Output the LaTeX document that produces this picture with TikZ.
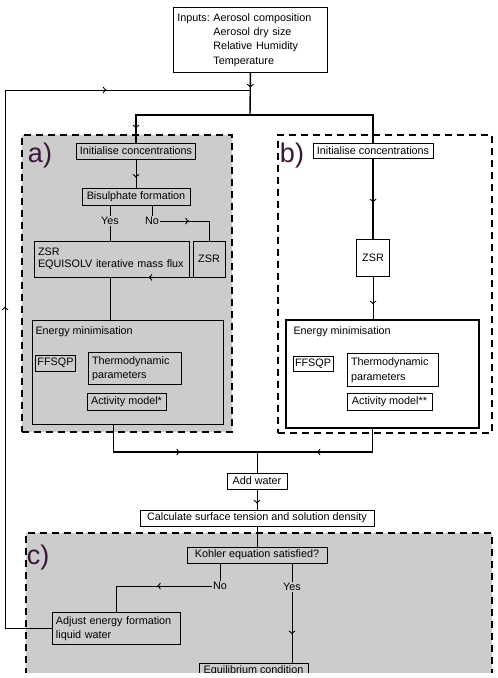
\documentclass[tikz,border=0pt]{standalone}
\usepackage{fontspec}
\setmainfont{Liberation Sans}
\usetikzlibrary{positioning,decorations.markings}
\definecolor{panelgray}{RGB}{204,204,204}
\definecolor{tagpurple}{RGB}{58,22,58}

\begin{document}
\begin{tikzpicture}[x=1pt,y=-1pt,
  every node/.style={font=\fontsize{10.8}{12}\selectfont},
  box/.style={draw,line width=0.9pt,inner sep=2pt},
  twoline/.style={box,align=left,inner sep=4pt,font=\fontsize{10.8}{14.5}\selectfont},
  answer/.style={inner sep=1pt},
  tag/.style={text=tagpurple,inner sep=0pt,font=\fontsize{27}{27}\selectfont},
  panel/.style={draw,line width=1.2pt,dash pattern=on 7pt off 5pt},
  link/.style={line width=0.8pt},
  trunk/.style={line width=1.4pt},
  midarrow/.style={postaction={decorate},decoration={markings,mark=at position #1 with {\arrow[scale=1.4,line width=0.8pt]{>}}}}]
\useasboundingbox (0,0) rectangle (498,678);
\clip (0,0) rectangle (498,672);

\node[panel,fill=panelgray,minimum width=210pt,minimum height=297pt] (panelA) at (127,283.5) {};
\node[panel,minimum width=214pt,minimum height=298pt] (panelB) at (385,284) {};
\node[panel,fill=panelgray,minimum width=466pt,minimum height=157pt] (panelC) at (259,611.5) {};
\node[tag] (tagA) at (40,156) {a)};
\node[tag] (tagB) at (292,156) {b)};
\node[tag] (tagC) at (38,558) {c)};

\node[box,anchor=north west,text width=146pt,minimum height=65pt,inner sep=4pt,align=left,font=\fontsize{10.8}{14.3}\selectfont] (inputs) at (173,7)
  {\makebox[36pt][l]{Inputs:}Aerosol composition\\\hspace*{36pt}Aerosol dry size\\\hspace*{36pt}Relative Humidity\\\hspace*{36pt}Temperature};
\coordinate (loopin) at (250,90);
\coordinate (loopleft) at (5,90);
\coordinate (split) at (250,115);

\node[box,minimum width=119pt,minimum height=16pt] (initA) at (136,151) {Initialise concentrations};
\node[box,minimum width=108pt,minimum height=17pt] (bisA) at (136,196.5) {Bisulphate formation};
\node[answer] (yesA) at (110,221) {Yes};
\node[answer] (noA) at (152,221) {No};
\node[box,align=left,text width=147pt,minimum height=36pt,inner sep=4pt] (zsrA) at (111.5,259) {ZSR\\EQUISOLV iterative mass flux};
\node[box,minimum width=32pt,minimum height=36pt] (zsrAno) at (209,259) {ZSR};
\coordinate (joinA) at (210,293);
\node[box,minimum width=191pt,minimum height=104pt] (enA) at (127.5,372) {};
\node[anchor=west] (enAtxt) at (32,332) {Energy minimisation};
\node[box,minimum width=39pt,minimum height=16pt] (ffsA) at (55.5,363) {FFSQP};
\node[twoline,text width=85pt,minimum height=29pt] (thermoA) at (134.5,368.5) {Thermodynamic\\parameters};
\node[box,minimum width=79pt,minimum height=17pt] (actA) at (126.5,401.5) {Activity model*};

\node[box,minimum width=120pt,minimum height=15pt] (initB) at (373,150.5) {Initialise concentrations};
\node[box,minimum width=33pt,minimum height=37pt] (zsrB) at (373,257.5) {ZSR};
\node[box,line width=1.2pt,minimum width=193pt,minimum height=108pt] (enB) at (382.5,374) {};
\node[anchor=west] (enBtxt) at (290,332) {Energy minimisation};
\node[box,minimum width=40pt,minimum height=15pt] (ffsB) at (313,363.5) {FFSQP};
\node[twoline,text width=83pt,minimum height=30pt] (thermoB) at (392.5,370) {Thermodynamic\\parameters};
\node[box,minimum width=85pt,minimum height=17pt] (actB) at (389.5,401.5) {Activity model**};

\coordinate (merge) at (257,452);
\node[box,minimum width=60pt,minimum height=16pt] (water) at (257,481) {Add water};
\node[box,minimum width=234pt,minimum height=16pt] (calc) at (257,518) {Calculate surface tension and solution density};
\node[box,minimum width=140pt,minimum height=16pt] (kohler) at (257,555) {Kohler equation satisfied?};
\node[answer] (noC) at (220,586) {No};
\node[answer] (yesC) at (292,587) {Yes};
\node[twoline,text width=120pt,minimum height=31pt] (adjust) at (116,628.5) {Adjust energy formation\\liquid water};
\node[box,minimum width=109pt,minimum height=16pt] (equil) at (253.5,671) {Equilibrium condition};

\draw[trunk,midarrow=0.35] (inputs.south) -- (split);
\draw[trunk,midarrow=0.9] (split) -| (initA.north);
\draw[trunk] (split) -| (initB.north);
\draw[link,postaction={decorate},decoration={markings,mark=at position 0.444 with {\arrow[scale=1.4]{>}},mark=at position 0.827 with {\arrow[scale=1.4]{>}}}] (adjust.west) -| (loopleft) -- (loopin);

\draw[link,midarrow=0.65] (initA) -- (bisA);
\draw[link] (bisA.south -| yesA) -- (yesA);
\draw[link] (bisA.south -| noA) -- (noA);
\draw[link,midarrow=0.42] (noA) -| (zsrAno);
\draw[link] (yesA) -- (zsrA.north -| yesA);
\draw[link,midarrow=0.61] (zsrAno) |- (zsrA.south -| yesA |- joinA);
\draw[link] (zsrA.south -| yesA) -- (enA.north -| yesA);

\draw[trunk,midarrow=0.55] (initB) -- (zsrB);
\draw[link,midarrow=0.65] (zsrB) -- (enB.north -| zsrB);

\draw[trunk,midarrow=0.55] ([xshift=-14pt]enA.south) |- (merge);
\draw[trunk,midarrow=0.57] ([xshift=-10pt]enB.south) |- (merge);
\draw[link] (merge) -- (water);
\draw[link,midarrow=0.7] (water) -- (calc);
\draw[link] (calc) -- (kohler);
\draw[link] (kohler.south -| noC) -- (noC);
\draw[link] (kohler.south -| yesC) -- (yesC);
\draw[link,midarrow=0.45] (noC) -| (adjust);
\draw[link,midarrow=0.6] (yesC) -- (equil.north -| yesC);
\end{tikzpicture}
\end{document}
